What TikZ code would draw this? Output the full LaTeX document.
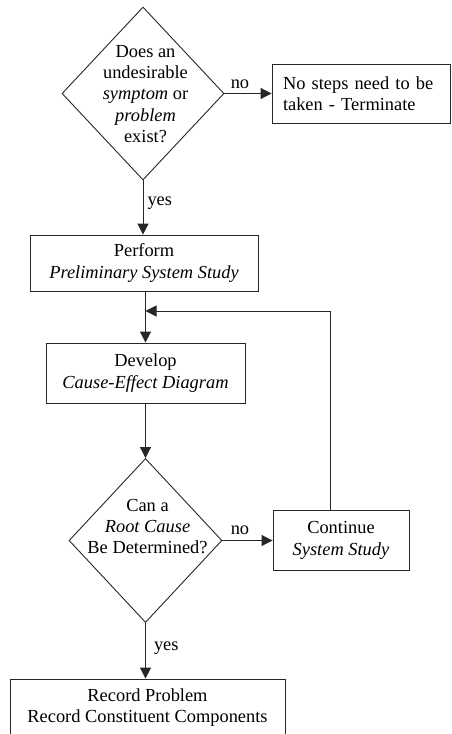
\documentclass[tikz,border=0pt]{standalone}
\usepackage{fontspec}
\setmainfont{Liberation Serif}
\usetikzlibrary{arrows.meta,shapes.geometric}
\begin{document}
\begin{tikzpicture}[x=1pt,y=-1pt,
  every node/.style={font=\fontsize{18.4}{21.3}\selectfont, inner sep=0pt},
  stepbox/.style={draw=black!85, line width=0.9pt, rectangle, align=center},
  decision/.style={draw=black!85, line width=0.9pt, diamond, inner sep=0pt},
  txt/.style={align=center},
  lbl/.style={inner sep=0pt},
  arr/.style={draw=black!85, line width=1pt, -{Triangle[length=11pt,width=11pt]}},
  plain/.style={draw=black!85, line width=1pt}
]
\clip (0,0) rectangle (451,734);
\useasboundingbox (0,0) rectangle (451,734);

% decision 1
\node[decision, minimum width=162pt, minimum height=173pt] (d1) at (143,93.5) {};
\node[txt] (d1t) at (145.5,93.9) {Does an\\undesirable\\\textit{symptom} or\\\textit{problem}\\exist?};

% terminate box
\node[stepbox, align=left, text width=156pt, inner xsep=11pt, minimum height=59pt] (ns) at (361,93.5)
  {No steps need to be\\taken - Terminate};

% perform
\node[stepbox, minimum width=228pt, minimum height=56pt] (pf) at (144,263)
  {Perform\\\textit{Preliminary System Study}};

% develop
\node[stepbox, minimum width=199pt, minimum height=60pt] (dv) at (145.5,373)
  {Develop\\\textit{Cause-Effect Diagram}};

% decision 2
\node[decision, minimum width=153pt, minimum height=164pt] (d2) at (145.5,540.5) {};
\node[txt] (d2t) at (147.5,526.7) {Can a\\\textit{Root Cause}\\Be Determined?};

% continue
\node[stepbox, minimum width=136pt, minimum height=60pt] (cs) at (341,540.5)
  {Continue\\\textit{System Study}};

% record
\node[stepbox, minimum width=275pt, minimum height=57pt] (rc) at (147.5,707.5)
  {Record Problem\\Record Constituent Components};

\coordinate (fb) at (330,311);

% connectors
\draw[arr] (d1.east) -- node[lbl, pos=0.33, above=4.5pt] {no} (ns.west);
\draw[arr] (d1.south) -- node[lbl, pos=0.42, right, xshift=4pt] {yes} (d1.south |- pf.north);
\draw[arr] (dv.north |- pf.south) -- (dv.north);
\draw[arr] (fb |- cs.north) -- (fb) -- (dv.north |- fb);
\draw[arr] (dv.south) -- (d2.north);
\draw[arr] (d2.east) -- node[lbl, pos=0.35, above=5pt] {no} (cs.west);
\draw[arr] (d2.south) -- node[lbl, pos=0.46, right, xshift=8pt] {yes} (d2.south |- rc.north);
\end{tikzpicture}
\end{document}
